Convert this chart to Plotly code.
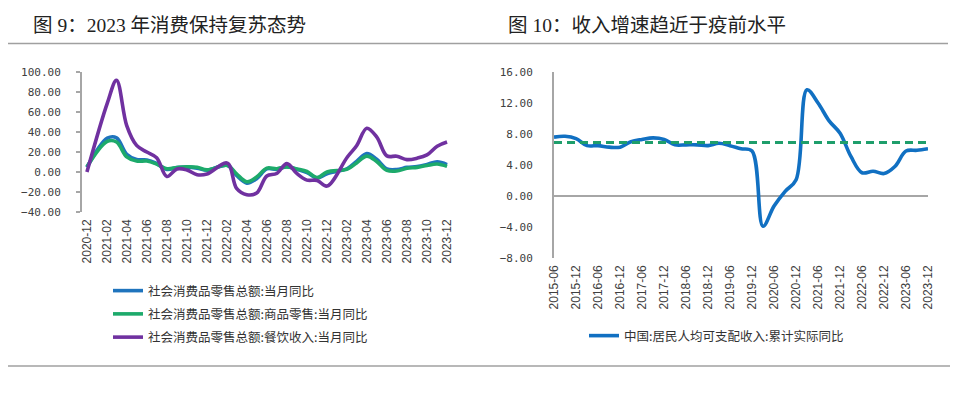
import plotly.graph_objects as go

# ---------------- data: left chart (monthly, Jan merged into Feb) ----------------
months = ["2020-12",
          "2021-02", "2021-03", "2021-04", "2021-05", "2021-06", "2021-07", "2021-08",
          "2021-09", "2021-10", "2021-11", "2021-12",
          "2022-02", "2022-03", "2022-04", "2022-05", "2022-06", "2022-07", "2022-08",
          "2022-09", "2022-10", "2022-11", "2022-12",
          "2023-02", "2023-03", "2023-04", "2023-05", "2023-06", "2023-07", "2023-08",
          "2023-09", "2023-10", "2023-11", "2023-12"]
retail_total = [4.6,
                33.8, 34.2, 17.7, 12.4, 12.1, 8.5, 2.5, 4.4, 4.9, 3.9, 1.7,
                6.7, -3.5, -11.1, -6.7, 3.1, 2.7, 5.4, 2.5, -0.5, -5.9, -1.8,
                3.5, 10.6, 18.4, 12.7, 3.1, 2.5, 4.6, 5.5, 7.6, 10.1, 7.4]
retail_goods = [5.2,
                30.7, 30.0, 15.1, 10.9, 11.0, 7.9, 3.3, 4.5, 5.2, 4.7, 2.1,
                6.5, -1.9, -9.7, -5.0, 3.9, 3.2, 5.1, 3.0, 0.5, -5.6, 0.0,
                2.9, 9.1, 15.9, 10.5, 1.7, 1.0, 3.7, 4.6, 6.5, 8.0, 5.6]
retail_catering = [0.0,
                   68.9, 91.6, 46.4, 26.6, 20.0, 14.3, -4.5, 3.1, 2.0, -2.7, -2.0,
                   8.9, -16.4, -22.7, -21.1, -4.0, -1.5, 8.4, -1.7, -8.1, -8.4, -14.1,
                   15.0, 26.3, 43.8, 35.1, 16.1, 15.8, 12.4, 13.8, 17.1, 25.8, 30.0]
left_names = ["社会消费品零售总额:当月同比",
              "社会消费品零售总额:商品零售:当月同比",
              "社会消费品零售总额:餐饮收入:当月同比"]

# ---------------- data: right chart (quarterly cumulative) ----------------
quarters = ["2015-06", "2015-09", "2015-12",
            "2016-03", "2016-06", "2016-09", "2016-12",
            "2017-03", "2017-06", "2017-09", "2017-12",
            "2018-03", "2018-06", "2018-09", "2018-12",
            "2019-03", "2019-06", "2019-09", "2019-12",
            "2020-03", "2020-06", "2020-09", "2020-12",
            "2021-03", "2021-06", "2021-09", "2021-12",
            "2022-03", "2022-06", "2022-09", "2022-12",
            "2023-03", "2023-06", "2023-09", "2023-12"]
income_real = [7.6, 7.7, 7.4,
               6.5, 6.5, 6.3, 6.3,
               7.0, 7.3, 7.5, 7.3,
               6.6, 6.6, 6.6, 6.5,
               6.8, 6.5, 6.1, 5.8,
               -3.9, -1.3, 0.6, 2.1,
               13.7, 12.0, 9.7, 8.1,
               5.1, 3.0, 3.2, 2.9,
               3.8, 5.8, 5.9, 6.1]
pre_covid_level = 6.9
right_name = "中国:居民人均可支配收入:累计实际同比"

left_title = "图 9：2023 年消费保持复苏态势"
right_title = "图 10：收入增速趋近于疫前水平"

# ---------------- styles ----------------
W, H = 960, 396
OFF = 8  # page body margin offset
GRAY = "#a6a6a6"
TXT = "#404040"
BLUE = "#1f74bd"
GREEN = "#1daa6b"
PURPLE = "#7031a0"
RBLUE = "#1170c2"
RGREEN = "#1e9e6b"
CJK = "Noto Sans CJK SC"
NUMF = "DejaVu Sans Mono"
XF = "Liberation Sans"

def px_x(p):
    return (p - OFF) / W

def px_y(p):
    return 1 - (p - OFF) / H

left_dom_x = [px_x(82), px_x(450)]
left_dom_y = [px_y(212), px_y(72)]
right_dom_x = [px_x(554), px_x(928)]
right_dom_y = [px_y(258), px_y(72)]
left_yrange = [-40, 100]
right_yrange = [-8, 16]

fig = go.Figure()

for vals, name, col in [(retail_total, left_names[0], BLUE),
                        (retail_goods, left_names[1], GREEN),
                        (retail_catering, left_names[2], PURPLE)]:
    fig.add_trace(go.Scatter(x=months, y=vals, name=name, mode="lines",
                             line=dict(color=col, width=3.6, shape="spline", smoothing=1.0),
                             xaxis="x", yaxis="y", legend="legend",
                             legendgroup=name))

fig.add_trace(go.Scatter(x=quarters, y=income_real, name=right_name, mode="lines",
                         line=dict(color=RBLUE, width=3.6, shape="spline", smoothing=1.0),
                         xaxis="x2", yaxis="y2", legend="legend2"))
fig.add_trace(go.Scatter(x=[quarters[0], quarters[-1]], y=[pre_covid_level, pre_covid_level],
                         mode="lines", showlegend=False,
                         line=dict(color=RGREEN, width=3, dash="8px,5px"),
                         xaxis="x2", yaxis="y2"))

zero_pos = left_dom_y[0] + (0 - left_yrange[0]) / (left_yrange[1] - left_yrange[0]) * (left_dom_y[1] - left_dom_y[0])

fig.update_layout(
    width=W, height=H,
    margin=dict(l=0, r=0, t=0, b=0, pad=0, autoexpand=False),
    paper_bgcolor="white", plot_bgcolor="rgba(0,0,0,0)",
    xaxis=dict(domain=left_dom_x, anchor="y", type="date",
               range=["2020-11-16", "2023-12-10"],
               tick0="2020-12-01", dtick="M2", tickformat="%Y-%m", tickangle=-90,
               ticks="", showline=False, showgrid=False, zeroline=False, automargin=False,
               tickfont=dict(family=XF, size=12, color=TXT), ticklabelstandoff=4),
    xaxis3=dict(overlaying="x", anchor="free", position=zero_pos, type="date",
                range=["2020-11-16", "2023-12-10"],
                tick0="2021-01-17", dtick="M2", ticks="outside", ticklen=4,
                tickcolor=GRAY, tickwidth=1.5, automargin=False,
                showticklabels=False, showline=True, linecolor=GRAY, linewidth=2,
                showgrid=False, zeroline=False),
    yaxis=dict(domain=left_dom_y, anchor="x", range=left_yrange, dtick=20,
               tickformat=".2f", ticks="outside", ticklen=4, tickcolor=GRAY, tickwidth=1.5,
               showline=True, linecolor=GRAY, linewidth=2, showgrid=False, zeroline=False,
               automargin=False,
               tickfont=dict(family=NUMF, size=11, color=TXT), ticklabelstandoff=13),
    xaxis2=dict(domain=right_dom_x, anchor="y2", type="date",
                range=["2015-06-01", "2023-12-01"],
                tick0="2015-06-01", dtick="M6", tickformat="%Y-%m", tickangle=-90,
                ticks="", showline=False, showgrid=False, zeroline=False, automargin=False,
                tickfont=dict(family=XF, size=12, color=TXT), ticklabelstandoff=4),
    yaxis2=dict(domain=right_dom_y, anchor="x2", range=right_yrange, dtick=4,
                tickformat=".2f", ticks="", showline=True, linecolor=GRAY, linewidth=2,
                showgrid=False, zeroline=True, zerolinecolor=GRAY, zerolinewidth=2,
                automargin=False,
                tickfont=dict(family=NUMF, size=11, color=TXT), ticklabelstandoff=17),
    legend=dict(x=px_x(108), y=px_y(276), xanchor="left", yanchor="top",
                bgcolor="rgba(0,0,0,0)", borderwidth=0, tracegroupgap=4,
                font=dict(family=CJK, size=12.5, color="#333333")),
    legend2=dict(x=px_x(584), y=px_y(321), xanchor="left", yanchor="top",
                 bgcolor="rgba(0,0,0,0)", borderwidth=0,
                 font=dict(family=CJK, size=12.5, color="#333333")),
    showlegend=True,
)

title_font = dict(family="Liberation Serif, " + CJK, size=19.5, color="#222222")
fig.add_annotation(text=left_title, xref="paper", yref="paper", x=px_x(31), y=px_y(25),
                   xanchor="left", yanchor="middle", showarrow=False, font=title_font)
fig.add_annotation(text=right_title, xref="paper", yref="paper", x=px_x(506), y=px_y(25),
                   xanchor="left", yanchor="middle", showarrow=False, font=title_font)

for x0, x1, y in [(7, 480, 43.5), (480, 948, 43.5), (3, 950, 366)]:
    fig.add_shape(type="line", xref="paper", yref="paper",
                  x0=px_x(x0), x1=px_x(x1), y0=px_y(y), y1=px_y(y),
                  line=dict(color="#a0a0a0", width=1.5))

fig.write_html("out.html")
